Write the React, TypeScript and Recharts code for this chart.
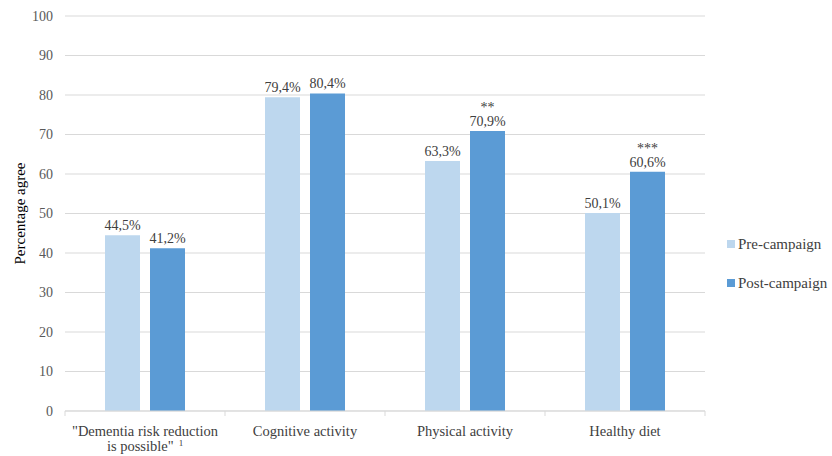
import React from 'react';
import { BarChart, Bar, XAxis, YAxis, CartesianGrid, LabelList } from 'recharts';

const categories = ['Dementia risk reduction is possible', 'Cognitive activity', 'Physical activity', 'Healthy diet'];
const tickLines = [['"Dementia risk reduction', 'is possible"'], ['Cognitive activity'], ['Physical activity'], ['Healthy diet']];
const footnotes = ['1', '', '', ''];
const preValues = [44.5, 79.4, 63.3, 50.1];
const postValues = [41.2, 80.4, 70.9, 60.6];
const postStars = ['', '', '**', '***'];
const seriesNames = ['Pre-campaign', 'Post-campaign'];
const yTicks = [0, 10, 20, 30, 40, 50, 60, 70, 80, 90, 100];

const PRE = '#BDD7EE';
const POST = '#5B9BD5';
const GRID = '#D9D9D9';
const TEXT = '#404040';
const AXIS_TEXT = '#595959';
const FONT = "'Liberation Serif', 'DejaVu Serif', serif";

const data = categories.map((c, i) => ({ name: c, pre: preValues[i], post: postValues[i] }));

const fmt = (v: number) => v.toFixed(1).replace('.', ',') + '%';

const makeLabel = (stars: string[] | null) => (props: any) => {
  const { x, y, width, value, index } = props;
  const cx = Number(x) + Number(width) / 2;
  const s = stars ? stars[index] : '';
  return (
    <g>
      <text x={cx} y={Number(y) - 5} textAnchor="middle" style={{ fontFamily: FONT, fontSize: 14 }} fill={TEXT}>{fmt(Number(value))}</text>
      {s ? <text x={cx} y={Number(y) - 19} textAnchor="middle" style={{ fontFamily: FONT, fontSize: 14 }} fill={TEXT}>{s}</text> : null}
    </g>
  );
};

const XTick = (props: any) => {
  const { x, y, payload } = props;
  const i = categories.indexOf(payload.value);
  const off = payload && typeof payload.offset === 'number' ? payload.offset : 0;
  const lines = i >= 0 ? tickLines[i] : [String(payload.value)];
  const isLast = i === categories.length - 1;
  return (
    <g>
      {off ? <line x1={x - off} x2={x - off} y1={y} y2={y + 5} stroke={GRID} /> : null}
      {off && isLast ? <line x1={x + off} x2={x + off} y1={y} y2={y + 5} stroke={GRID} /> : null}
      {lines.map((l, k) => (
        <text key={k} x={x} y={y + 25 + k * 15} textAnchor="middle" style={{ fontFamily: FONT, fontSize: 14.5 }} fill={TEXT}>
          {l}
          {k === lines.length - 1 && footnotes[i] ? (
            <tspan style={{ fontSize: 9 }} dx={5} dy={-5}>{footnotes[i]}</tspan>
          ) : null}
        </text>
      ))}
    </g>
  );
};

const YTitle = (props: any) => {
  const vb = props.viewBox || { x: 0, y: 0, height: 0 };
  const cx = 20;
  const cy = vb.y + vb.height / 2;
  return (
    <text x={cx} y={cy} transform={`rotate(-90, ${cx}, ${cy})`} textAnchor="middle" dominantBaseline="central" style={{ fontFamily: FONT, fontSize: 15 }} fill="#000">
      Percentage agree
    </text>
  );
};

export default function App() {
  const colors = [PRE, POST];
  return (
    <div style={{ position: 'absolute', left: 0, top: 0, width: 832, height: 456, background: '#fff', fontFamily: FONT }}>
      <BarChart width={832} height={456} data={data} margin={{ top: 16, right: 127, bottom: 0, left: 0 }} barCategoryGap="25%" barGap={10} style={{ fontFamily: FONT }}>
        <CartesianGrid horizontal vertical={false} stroke={GRID} />
        <XAxis dataKey="name" height={45} tick={<XTick />} tickLine={false} tickSize={0} tickMargin={0} axisLine={{ stroke: GRID }} interval={0} />
        <YAxis width={65} domain={[0, 100]} ticks={yTicks} axisLine={false} tickLine={false} tickSize={0} tickMargin={12} tick={{ fontSize: 14, fill: AXIS_TEXT, style: { fontFamily: FONT } }} label={{ content: <YTitle /> } as any} />
        <Bar dataKey="pre" name={seriesNames[0]} fill={PRE} isAnimationActive={false}>
          <LabelList dataKey="pre" content={makeLabel(null)} />
        </Bar>
        <Bar dataKey="post" name={seriesNames[1]} fill={POST} isAnimationActive={false}>
          <LabelList dataKey="post" content={makeLabel(postStars)} />
        </Bar>
      </BarChart>
      <div style={{ position: 'absolute', left: 727, top: 235 }}>
        {seriesNames.map((n, i) => (
          <div key={n} style={{ display: 'flex', alignItems: 'center', height: 18, marginBottom: 21, fontSize: 15, color: TEXT, fontFamily: FONT }}>
            <span style={{ display: 'inline-block', width: 8, height: 8, background: colors[i], marginRight: 3 }} />
            <span>{n}</span>
          </div>
        ))}
      </div>
    </div>
  );
}
